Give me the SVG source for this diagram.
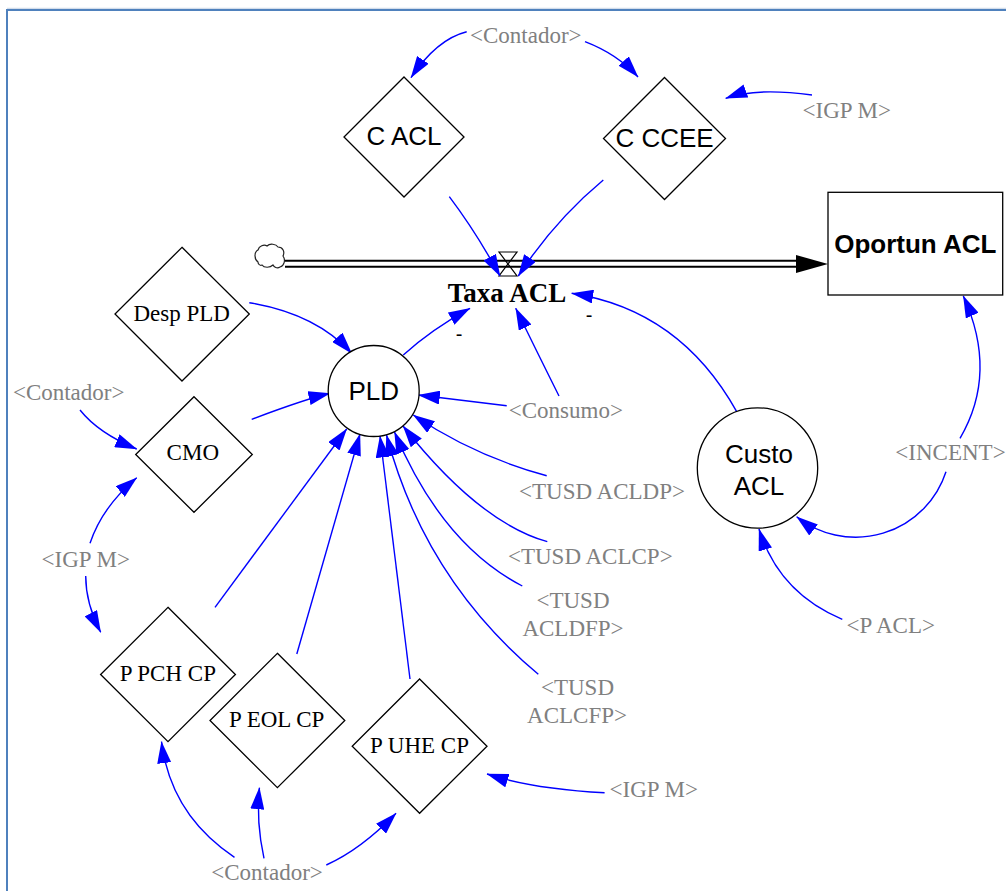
<svg xmlns="http://www.w3.org/2000/svg" width="1006" height="891" viewBox="0 0 1006 891">
<style>
.sans{font-family:"Liberation Sans",Arial,sans-serif;fill:#000}
.serif{font-family:"Liberation Serif","Times New Roman",serif;fill:#000}
.ghost{font-family:"Liberation Serif","Times New Roman",serif;fill:#808080;font-size:23px;text-anchor:middle}
.node{fill:#fff;stroke:#000;stroke-width:1.3}
.lnk{fill:none;stroke:#0000FF;stroke-width:1.4;marker-end:url(#ah)}
.n26{font-size:26px;text-anchor:middle}
.n23{font-size:23px;text-anchor:middle}
</style>
<defs>
<marker id="ah" markerUnits="userSpaceOnUse" markerWidth="22" markerHeight="14" refX="21.5" refY="7" orient="auto" viewBox="0 0 22 14"><path d="M0,0 L22,7 L0,14 z" fill="#0000FF"/></marker>
</defs>
<rect width="1006" height="891" fill="#fff"/>
<g id="frame">
<line x1="7" y1="8.3" x2="1006" y2="8.3" stroke="#c9d5e6" stroke-width="1"/>
<path d="M7,891 V10 H1006" fill="none" stroke="#4F81BD" stroke-width="2"/>
</g>

<g id="flow-pipe">
<line x1="285" y1="263.8" x2="797" y2="263.8" stroke="#000" stroke-width="8"/>
<line x1="284" y1="263.8" x2="798" y2="263.8" stroke="#fff" stroke-width="4"/>
<path d="M796,255 L828,264 L796,273 z" fill="#000"/>
<path d="M258,262 C254,259 254,252 258,250 C259,246 264,244 267,246 C270,243 276,244 278,247 C283,247 285,252 283,256 C286,260 284,266 280,267 C277,269 274,267 273,265 C270,268 264,268 262,265 C260,266 258,264 258,262 Z" fill="#fff" stroke="#222" stroke-width="1.2"/>
<path d="M499,252 L517,252 L499,276 L517,276 Z" fill="none" stroke="#000" stroke-width="1.2"/>
</g>

<g id="connectors">
<path class="lnk" d="M466.7,31.7 Q436.7,39.2 411,77.7"/>
<path class="lnk" d="M585,41.7 Q617.5,54.2 638,77"/>
<path class="lnk" d="M812,95 Q755.7,87.4 725.7,98.3"/>
<path class="lnk" d="M449.3,196.7 Q476,232 500,276"/>
<path class="lnk" d="M603.3,180 Q554,221 518.3,276"/>
<path class="lnk" d="M736.7,411.7 Q680,310 571.7,293.3"/>
<path class="lnk" d="M403.3,355 Q431.1,329.5 470,308.3"/>
<path class="lnk" d="M559,396 Q538,354 515.7,308.3"/>
<path class="lnk" d="M249.3,302.7 Q316.1,313.8 351.7,353.3"/>
<path class="lnk" d="M251.7,419.3 Q307.3,398.5 330,393.3"/>
<path class="lnk" d="M80,410 Q98.5,433.2 136.7,449"/>
<path class="lnk" d="M90,543.3 Q102.2,506.7 136.7,477.7"/>
<path class="lnk" d="M85.7,576 Q85.7,603.4 100.7,632.3"/>
<path class="lnk" d="M506.7,405.7 L418.3,395"/>
<path class="lnk" d="M546.7,475.7 Q474,456 413.3,415"/>
<path class="lnk" d="M547.3,541.7 Q478.75,522.25 403,426"/>
<path class="lnk" d="M522.3,586 Q441.85,544.4 394.5,432"/>
<path class="lnk" d="M538.3,674.3 Q424.45,578.75 386.5,435"/>
<path class="lnk" d="M410,679 L380,436"/>
<path class="lnk" d="M296.8,654 L360,434"/>
<path class="lnk" d="M215,607.3 L346.7,429"/>
<path class="lnk" d="M960,438.3 Q998.35,372.85 963.3,296"/>
<path class="lnk" d="M946,471.7 A95,95 0 0 1 796.7,516.7"/>
<path class="lnk" d="M842.3,619.3 Q778.8,592.8 759,529"/>
<path class="lnk" d="M604.6,792.7 Q532.8,788.9 487,774"/>
<path class="lnk" d="M234.5,857.3 Q170.7,814.7 161.5,741.7"/>
<path class="lnk" d="M264,858.3 Q256,822 259.4,787.7"/>
<path class="lnk" d="M326.3,865 Q360.7,849.7 396,813.3"/>
</g>

<g id="polarity" class="sans" font-size="20" text-anchor="middle">
<text x="459" y="341">-</text>
<text x="589" y="322">-</text>
</g>

<g id="node-c-acl">
<polygon class="node" points="404,77 464,137 404,197 344,137"/>
<text class="sans n26" x="404" y="145">C ACL</text>
</g>
<g id="node-c-ccee">
<polygon class="node" points="664.5,77.5 725.5,138.5 664.5,199.5 603.5,138.5"/>
<text class="sans n26" x="664.5" y="147">C CCEE</text>
</g>
<g id="node-oportun-acl">
<rect class="node" x="828" y="192.3" width="174.7" height="102.7"/>
<text class="sans n26" x="915.3" y="252.7" font-weight="bold">Oportun ACL</text>
</g>
<g id="node-taxa-acl">
<text class="serif" x="507" y="301.5" font-size="27" font-weight="bold" text-anchor="middle">Taxa ACL</text>
</g>
<g id="node-desp-pld">
<polygon class="node" points="182,247.3 249.3,314 182,381 115,314"/>
<text class="serif n23" x="181.7" y="320.7">Desp PLD</text>
</g>
<g id="node-cmo">
<polygon class="node" points="194,396.7 252.3,454.5 194,512.3 135.7,454.5"/>
<text class="serif n23" x="192.8" y="460">CMO</text>
</g>
<g id="node-pld">
<circle class="node" cx="373.7" cy="391" r="45.5"/>
<text class="sans n26" x="373.7" y="400">PLD</text>
</g>
<g id="node-custo-acl">
<circle class="node" cx="757.5" cy="468" r="60.2"/>
<text class="sans n26" x="759" y="463.3">Custo</text>
<text class="sans n26" x="759" y="495">ACL</text>
</g>
<g id="node-p-pch-cp">
<polygon class="node" points="168,607.3 235.4,674.5 168,741.7 100.6,674.5"/>
<text class="serif n23" x="167.8" y="680.7">P PCH CP</text>
</g>
<g id="node-p-eol-cp">
<polygon class="node" points="277.4,653.3 344.8,720.5 277.4,787.7 210,720.5"/>
<text class="serif n23" x="276.7" y="726.7">P EOL CP</text>
</g>
<g id="node-p-uhe-cp">
<polygon class="node" points="419.6,679 487,746.2 419.6,813.3 352.2,746.2"/>
<text class="serif n23" x="419.5" y="753.3">P UHE CP</text>
</g>

<g id="shadow-contador-top"><text class="ghost" x="525.8" y="43">&lt;Contador&gt;</text></g>
<g id="shadow-igpm-top"><text class="ghost" x="846.7" y="118.3">&lt;IGP M&gt;</text></g>
<g id="shadow-contador-left"><text class="ghost" x="68.7" y="400">&lt;Contador&gt;</text></g>
<g id="shadow-igpm-left"><text class="ghost" x="85.7" y="566.7">&lt;IGP M&gt;</text></g>
<g id="shadow-consumo"><text class="ghost" x="565.8" y="418.3">&lt;Consumo&gt;</text></g>
<g id="shadow-tusd-acldp"><text class="ghost" x="602" y="499">&lt;TUSD ACLDP&gt;</text></g>
<g id="shadow-tusd-aclcp"><text class="ghost" x="590.3" y="564.3">&lt;TUSD ACLCP&gt;</text></g>
<g id="shadow-tusd-acldfp"><text class="ghost" x="573" y="607.7">&lt;TUSD</text><text class="ghost" x="573" y="636">ACLDFP&gt;</text></g>
<g id="shadow-tusd-aclcfp"><text class="ghost" x="577.5" y="695">&lt;TUSD</text><text class="ghost" x="577" y="723.3">ACLCFP&gt;</text></g>
<g id="shadow-incent"><text class="ghost" x="950.5" y="460">&lt;INCENT&gt;</text></g>
<g id="shadow-p-acl"><text class="ghost" x="890.8" y="633.3">&lt;P ACL&gt;</text></g>
<g id="shadow-igpm-bottom"><text class="ghost" x="653.7" y="796.7">&lt;IGP M&gt;</text></g>
<g id="shadow-contador-bottom"><text class="ghost" x="267" y="880">&lt;Contador&gt;</text></g>
</svg>
